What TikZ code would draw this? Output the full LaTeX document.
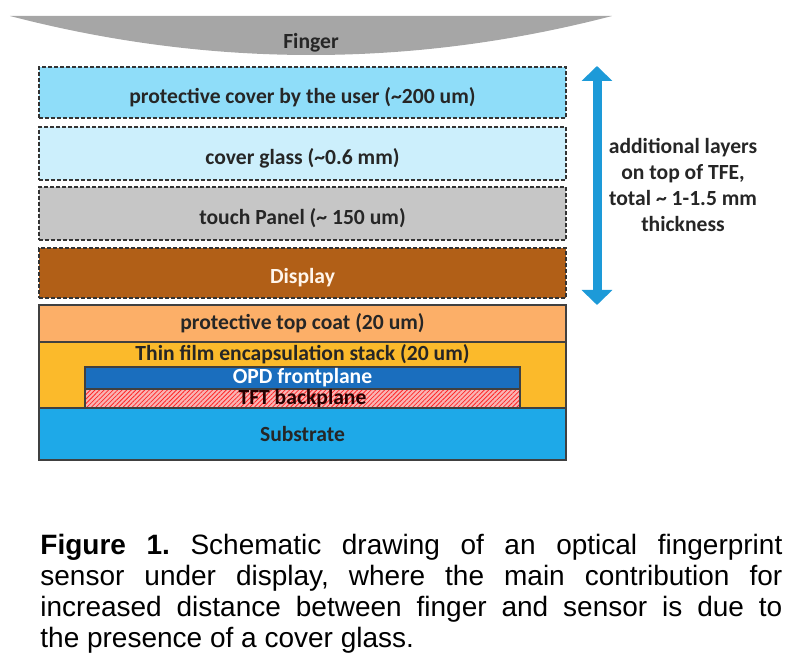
\documentclass[tikz,border=0pt]{standalone}
\usepackage{fontspec}
\setmainfont{Carlito}
\newfontfamily\capfont{Liberation Sans}
\usetikzlibrary{arrows.meta,patterns.meta}

\definecolor{fingergray}{HTML}{A6A6A6}
\definecolor{userblue}{HTML}{8FDDF9}
\definecolor{glassblue}{HTML}{CCEFFC}
\definecolor{panelgray}{HTML}{C6C6C6}
\definecolor{displaybrown}{HTML}{B15F17}
\definecolor{coatorange}{HTML}{FCAF68}
\definecolor{tfeyellow}{HTML}{FBBA2B}
\definecolor{opdblue}{HTML}{1A6EBE}
\definecolor{tftpink}{HTML}{F9B4B4}
\definecolor{substrateblue}{HTML}{1EA9E8}
\definecolor{arrowblue}{HTML}{1D9AD8}

\begin{document}
\begin{tikzpicture}[
    x=0.5pt, y=-0.5pt,
    lbl/.style   = {font=\fontsize{10.8}{13}\selectfont\bfseries, text=black!85},
    layer/.style = {lbl, minimum width=263.5pt, inner sep=0pt},
    extra/.style = {layer, draw=black!80, dash pattern=on 2pt off 1pt, line width=0.7pt,
      text height=13pt, text depth=2.2pt},
    stack/.style = {layer, draw=black!75, line width=0.6pt},
    thick arrow/.style = {arrowblue, line width=4.5pt,
      {Triangle[width=15pt,length=7.5pt]}-{Triangle[width=15pt,length=7.5pt]}},
  ]
  \useasboundingbox (0,0) rectangle (811,657);

  % Finger
  \fill[fingergray] (10,16) .. controls (210,68) and (412,68) .. (612,16) -- cycle;
  \node[lbl] (finger) at (311,43) {Finger};

  % layers on top of TFE (dashed)
  \node[extra, fill=userblue, minimum height=25.5pt] (cover) at (302.5,92.5)
    {protective cover by the user (\textasciitilde200 um)};
  \node[extra, fill=glassblue, minimum height=26.5pt] (glass) at (302.5,153.5)
    {cover glass (\textasciitilde0.6 mm)};
  \node[extra, fill=panelgray, minimum height=26.5pt] (panel) at (302.5,213.5)
    {touch Panel (\textasciitilde{} 150 um)};
  \node[extra, fill=displaybrown, minimum height=25pt, text=white!92!orange] (display) at (302.5,273)
    {Display};

  % sensor stack
  \node[stack, fill=coatorange, minimum height=18.5pt] (coat) at (302.5,323.5)
    {protective top coat (20 um)};
  \node[stack, fill=tfeyellow, minimum height=33pt,
    label={[lbl, anchor=north, inner sep=1.5pt]north:Thin film encapsulation stack (20 um)}] (tfe) at (302.5,375) {};
  \node[stack, minimum width=217.5pt, minimum height=11pt, fill=opdblue, text=white] (opd) at (302.5,378)
    {OPD frontplane};
  \node[stack, minimum width=217.5pt, minimum height=9.5pt, preaction={fill=tftpink},
    pattern={Lines[angle=45,distance=1.6pt,line width=0.4pt]}, pattern color=red!85] (tft) at (302.5,398.5) {};
  \node[lbl, inner sep=0pt, text=black!85!red] (tftlbl) at (tft) {TFT backplane};
  \node[stack, fill=substrateblue, minimum height=26pt] (substrate) at (302.5,434)
    {Substrate};

  % thickness arrow
  \coordinate (atop) at (597,66);
  \coordinate (abot) at (597,305);
  \draw[thick arrow] (atop) -- (abot);
  \node[lbl, align=center] (note) at (683,185)
    {additional layers\\on top of TFE,\\total \textasciitilde{} 1-1.5 mm\\thickness};

  % caption
  \node[anchor=north west, text width=371pt, align=justify, inner sep=0pt,
    font=\capfont\fontsize{14}{15.5}\selectfont\frenchspacing] (caption) at (40,534)
    {\textbf{Figure 1.} Schematic drawing of an optical fingerprint\linebreak
     sensor under display, where the main contribution for\linebreak
     increased distance between finger and sensor is due to\linebreak
     the presence of a cover glass.};
\end{tikzpicture}
\end{document}
